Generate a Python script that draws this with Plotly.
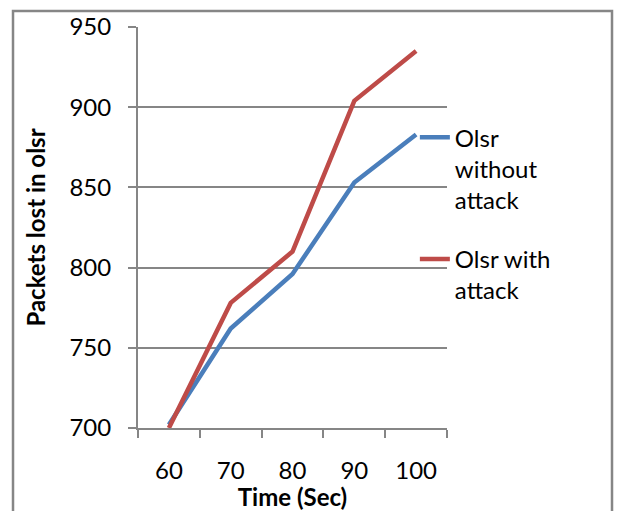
import plotly.graph_objects as go

# Simulation time points and packet loss for OLSR
time_sec = ["60", "70", "80", "90", "100"]
olsr_without_attack = [702, 762, 796, 853, 883]
olsr_with_attack = [700, 778, 810, 904, 935]
y_ticks = [700, 750, 800, 850, 900, 950]

FONT = "Lato"
GRID = "#868686"

fig = go.Figure()
fig.add_trace(go.Scatter(
    x=time_sec, y=olsr_without_attack, mode="lines",
    name="Olsr<br>without<br>attack", legendgroup="a",
    line=dict(color="#4A7EBB", width=4.5),
))
fig.add_trace(go.Scatter(
    x=time_sec, y=olsr_with_attack, mode="lines",
    name="Olsr with<br>attack", legendgroup="b",
    line=dict(color="#BE4B48", width=4.5),
))

fig.update_layout(
    width=618, height=511,
    margin=dict(l=138, r=171, t=27, b=83),
    paper_bgcolor="white", plot_bgcolor="white",
    font=dict(family=FONT, size=24, color="black"),
    showlegend=True,
    legend=dict(
        x=0.896, y=0.78, xanchor="left", yanchor="top",
        valign="top", tracegroupgap=25,
        font=dict(family=FONT, size=24, color="black"),
        bgcolor="rgba(0,0,0,0)",
    ),
    xaxis=dict(
        type="category", range=[-0.5, 4.5], automargin=False,
        showline=True, linecolor=GRID, linewidth=2,
        ticks="outside", tickson="boundaries", ticklen=8,
        tickcolor=GRID, tickwidth=2, ticklabelstandoff=20,
        tickfont=dict(size=24),
        showgrid=False, zeroline=False,
        title=dict(text="<b>Time (Sec)</b>", font=dict(size=24), standoff=2),
    ),
    yaxis=dict(
        range=[700, 950], tickvals=y_ticks, automargin=False,
        showline=True, linecolor=GRID, linewidth=2,
        ticks="outside", ticklen=8, tickcolor=GRID, tickwidth=2,
        ticklabelstandoff=12, tickfont=dict(size=24),
        showgrid=True, gridcolor=GRID, gridwidth=2, zeroline=False,
        title=dict(text="<b>Packets lost in olsr</b>", font=dict(size=24), standoff=17),
    ),
    shapes=[dict(
        type="rect", xref="paper", yref="paper",
        x0=-0.4045, x1=1.534, y0=-0.4, y1=1.04,
        line=dict(color=GRID, width=2.5), fillcolor="rgba(0,0,0,0)",
        layer="below",
    )],
)

fig.write_html("out.html")
